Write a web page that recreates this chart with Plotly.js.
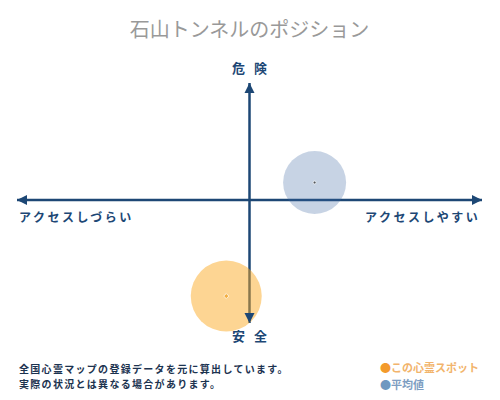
<!DOCTYPE html>
<html>
<head>
<meta charset="utf-8">
<script src="https://cdn.plot.ly/plotly-3.0.1.min.js"></script>
<style>
  body { margin: 0; background: #fff; }
  #chart { width: 500px; height: 400px; }
</style>
</head>
<body>
<div id="chart"></div>
<script>
// positions of this spot and the average, on access (x) / danger (y) scales
var spotNames = ['この心霊スポット', '平均値'];
var accessScore = [-1.0, 2.8];
var dangerScore = [-8.2, 1.5];

var chartTitle = '石山トンネルのポジション';
var xEndLabels = ['アクセスしづらい', 'アクセスしやすい'];
var yEndLabels = ['安 全', '危 険'];
var noteLines = ['全国心霊マップの登録データを元に算出しています。', '実際の状況とは異なる場合があります。'];

var navy = '#1d4775';
var jp = '"Noto Sans CJK JP", "Noto Sans", sans-serif';

var bubbles = {
    x: accessScore,
    y: dangerScore,
    text: spotNames,
    mode: 'markers',
    type: 'scatter',
    cliponaxis: false,
    hoverinfo: 'text',
    marker: {
        size: [71, 63],
        color: ['rgba(250,170,35,0.70)', 'rgba(60,100,160,0.41)'],
        line: {width: 0}
    }
};

var centers = {
    x: accessScore,
    y: dangerScore,
    mode: 'markers',
    type: 'scatter',
    cliponaxis: false,
    hoverinfo: 'skip',
    marker: {
        size: [4, 3],
        color: ['#f0a020', '#222'],
        symbol: ['diamond', 'circle']
    }
};

function arrowHead(x, y, xref, yref, ax, ay) {
    return {
        x: x, y: y, xref: xref, yref: yref,
        ax: ax, ay: ay, text: '',
        showarrow: true, arrowhead: 2, arrowsize: 0.8, arrowwidth: 2.5,
        arrowcolor: navy
    };
}

var labelFont = {family: jp, size: 12, color: navy, weight: 'bold'};
var endFont = {family: jp, size: 13, color: navy, weight: 'bold'};
var noteFont = {family: jp, size: 10, color: '#1c3350', weight: 'bold'};

function note(x, y, text, font, xanchor) {
    return {x: x, y: y, xref: 'paper', yref: 'paper', xanchor: xanchor, yanchor: 'middle',
            showarrow: false, text: text, font: font};
}

var annotations = [
    arrowHead(0, 1, 'x', 'paper', 0, 8),
    arrowHead(0, 0, 'x', 'paper', 0, -8),
    arrowHead(0, 0, 'paper', 'y', 8, 0),
    arrowHead(1, 0, 'paper', 'y', -8, 0),
    {x: 0, y: 1.064, xref: 'x', yref: 'paper', yanchor: 'middle', xshift: 1.5, showarrow: false,
     text: '<span style="letter-spacing:3px">' + yEndLabels[1] + '</span>', font: endFont},
    {x: 0, y: -0.054, xref: 'x', yref: 'paper', yanchor: 'middle', xshift: 1.5, showarrow: false,
     text: '<span style="letter-spacing:3px">' + yEndLabels[0] + '</span>', font: endFont},
    {x: 0, y: 0, xref: 'paper', yref: 'y', yshift: -16, xanchor: 'left', yanchor: 'middle', showarrow: false,
     text: '<span style="letter-spacing:2.5px">' + xEndLabels[0] + '</span>', font: labelFont},
    {x: 1, y: 0, xref: 'paper', yref: 'y', yshift: -16, xanchor: 'right', yanchor: 'middle', showarrow: false,
     text: '<span style="letter-spacing:2.5px">' + xEndLabels[1] + '</span>', font: labelFont},
    note(0, -0.1875, '<span style="letter-spacing:1.3px">' + noteLines[0] + '</span>', noteFont, 'left'),
    note(0, -0.254, '<span style="letter-spacing:1.3px">' + noteLines[1] + '</span>', noteFont, 'left'),
    note(0.776, -0.183, '<span style="color:#f39a2c">●</span>' + spotNames[0],
         {family: jp, size: 11, color: '#f2b46c', weight: 'bold'}, 'left'),
    note(0.776, -0.254, '<span style="color:#6f98c0">●</span>' + spotNames[1],
         {family: jp, size: 11, color: '#7e9ec2', weight: 'bold'}, 'left')
];

var layout = {
    width: 500,
    height: 400,
    margin: {l: 17, r: 18, t: 83, b: 77},
    paper_bgcolor: '#fff',
    plot_bgcolor: '#fff',
    showlegend: false,
    title: {
        text: chartTitle,
        x: 0.5, xref: 'paper',
        y: 0.925, yref: 'container', yanchor: 'middle',
        font: {family: jp, size: 20, color: '#999'}
    },
    xaxis: {range: [-10, 10], visible: false, fixedrange: true},
    yaxis: {range: [-10.5, 10], visible: false, fixedrange: true},
    shapes: [
        {type: 'line', layer: 'below', xref: 'paper', yref: 'y', x0: 0, x1: 1, y0: 0, y1: 0,
         line: {color: navy, width: 2.5}},
        {type: 'line', layer: 'below', xref: 'x', yref: 'paper', x0: 0, x1: 0, y0: 0, y1: 1,
         line: {color: navy, width: 2.5}}
    ],
    annotations: annotations
};

Plotly.newPlot('chart', [bubbles, centers], layout, {displayModeBar: false, staticPlot: true});
</script>
</body>
</html>
